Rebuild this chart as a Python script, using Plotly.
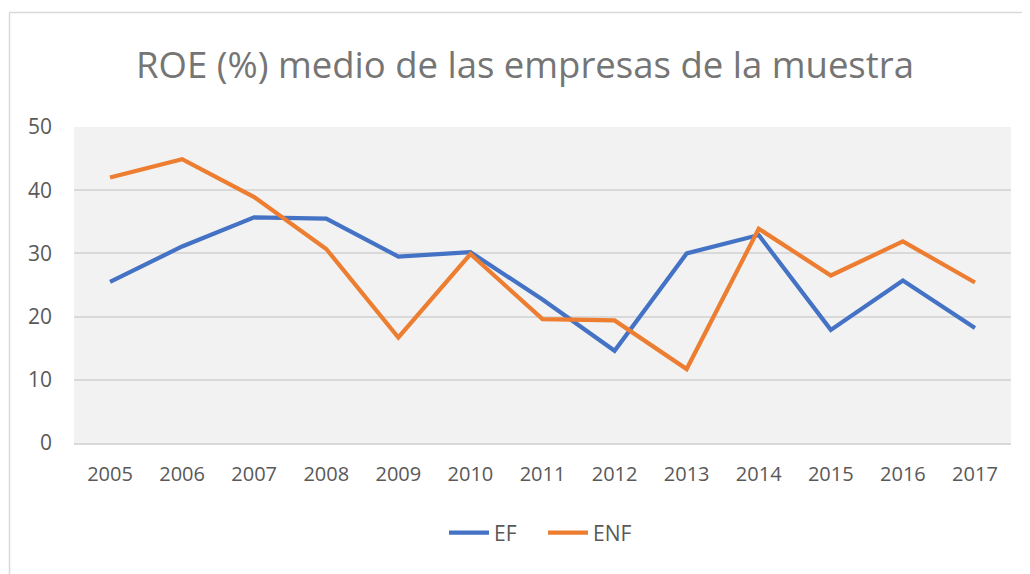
import plotly.graph_objects as go

years = ["2005", "2006", "2007", "2008", "2009", "2010", "2011", "2012", "2013", "2014", "2015", "2016", "2017"]
ef = [25.5, 31.1, 35.7, 35.5, 29.5, 30.2, 22.7, 14.6, 30.0, 32.9, 17.9, 25.7, 18.2]
enf = [42.0, 44.9, 38.9, 30.7, 16.7, 29.9, 19.6, 19.4, 11.7, 33.9, 26.5, 31.9, 25.4]

# page has an 8px body margin; work in screenshot pixels, then offset
OFF = 8
SW, SH = 1030, 574
W, H = SW - OFF, SH - OFF
L, R, T, B = 74 - OFF, 19, 127 - OFF, SH - 443
pw, ph = W - L - R, H - T - B

def px(x):
    return (x - OFF - L) / pw

def py(y):
    return (H - B - (y - OFF)) / ph

fig = go.Figure()
fig.add_trace(go.Scatter(x=years, y=ef, name="EF", mode="lines",
                         line=dict(color="#4472C4", width=4.2)))
fig.add_trace(go.Scatter(x=years, y=enf, name="ENF", mode="lines",
                         line=dict(color="#ED7D31", width=4.2)))

fig.update_layout(
    width=W, height=H,
    margin=dict(l=L, r=R, t=T, b=B, autoexpand=False),
    paper_bgcolor="white",
    plot_bgcolor="#f2f2f2",
    font=dict(family="Open Sans", color="#595959", size=20),
    title=dict(text="ROE (%) medio de las empresas de la muestra",
               x=(525 - OFF) / W, xref="container", xanchor="center",
               y=1 - (65 - OFF) / H, yanchor="middle",
               font=dict(family="Open Sans", size=36.5, color="#757575")),
    showlegend=True,
    legend=dict(orientation="h", x=px(444), xanchor="left", xref="paper",
                y=py(533), yanchor="middle", font=dict(size=21, color="#595959"),
                itemwidth=40, entrywidth=44, entrywidthmode="pixels",
                bgcolor="rgba(0,0,0,0)"),
    xaxis=dict(type="category", showgrid=False, showline=True, linecolor="#d9d9d9",
               linewidth=2, ticks="", tickfont=dict(size=20, color="#595959"),
               ticklabelstandoff=12, range=[-0.5, 12.5], zeroline=False),
    yaxis=dict(range=[0, 50], dtick=10, showgrid=True, gridcolor="#d9d9d9",
               gridwidth=1.5, zeroline=False, showline=False, ticks="",
               tickfont=dict(size=21, color="#595959"), ticklabelstandoff=21),
    shapes=[
        dict(type="line", xref="paper", yref="paper", x0=px(9.5), x1=px(1030),
             y0=py(12.5), y1=py(12.5), line=dict(color="#d9d9d9", width=1.5), layer="below"),
        dict(type="line", xref="paper", yref="paper", x0=px(9.5), x1=px(9.5),
             y0=py(12.5), y1=py(574), line=dict(color="#d9d9d9", width=1.5), layer="below"),
    ],
)

fig.write_html("out.html")
